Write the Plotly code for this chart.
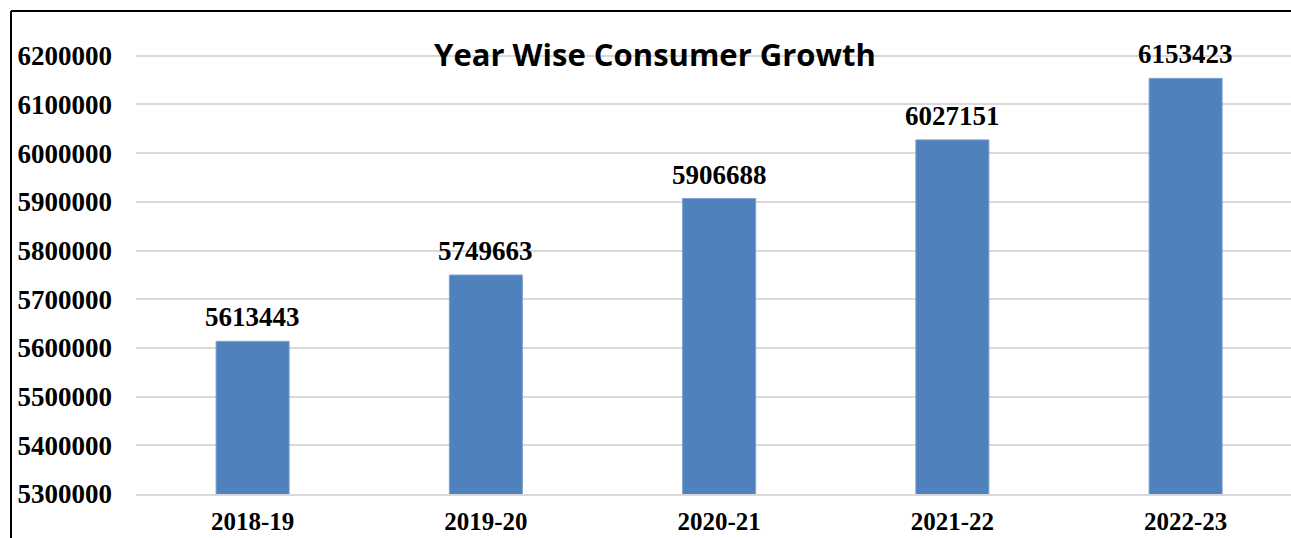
import plotly.graph_objects as go

categories = ["2018-19", "2019-20", "2020-21", "2021-22", "2022-23"]
consumers = [5613443, 5749663, 5906688, 6027151, 6153423]
y_ticks = [5300000, 5400000, 5500000, 5600000, 5700000, 5800000, 5900000, 6000000, 6100000, 6200000]
title_text = "Year Wise Consumer Growth"

W, H = 1291, 538
ML, MR, MT, MB = 136, 0, 12, 44
plot_w = W - ML - MR
plot_h = H - MT - MB

label_font = dict(family="Liberation Serif", size=27, color="black", weight="bold")
xtick_font = dict(family="Liberation Serif", size=25, color="black", weight="bold")

fig = go.Figure()
fig.add_trace(go.Bar(
    x=categories,
    y=consumers,
    width=0.313,
    marker=dict(color="#4f81bd", line=dict(color="#7aa0cf", width=1)),
    hoverinfo="x+y",
))

for c, v in zip(categories, consumers):
    fig.add_annotation(x=c, y=v, text=str(v), showarrow=False,
                       yanchor="bottom", yshift=7, font=label_font)

def px_to_paper_x(px):
    return (px - ML) / plot_w

def px_to_paper_y(py):
    return (H - MB - py) / plot_h

fig.add_shape(type="line", xref="paper", yref="paper",
              x0=px_to_paper_x(11), x1=px_to_paper_x(W + 5),
              y0=px_to_paper_y(11), y1=px_to_paper_y(11),
              line=dict(color="black", width=2))
fig.add_shape(type="line", xref="paper", yref="paper",
              x0=px_to_paper_x(11), x1=px_to_paper_x(11),
              y0=px_to_paper_y(11), y1=px_to_paper_y(H + 5),
              line=dict(color="black", width=2))

fig.update_layout(
    width=W, height=H,
    margin=dict(l=ML, r=MR, t=MT, b=MB, pad=0, autoexpand=False),
    paper_bgcolor="white", plot_bgcolor="white",
    showlegend=False,
    title=dict(text=title_text, xref="container", yref="container",
               x=655 / W, y=1 - 55 / H, xanchor="center", yanchor="middle",
               font=dict(family="Open Sans", size=31, color="black", weight="bold")),
)
fig.update_xaxes(
    range=[-0.5, -0.5 + plot_w / 233.25], automargin=False,
    showgrid=False, showline=True, linecolor="#d9d9d9", linewidth=2,
    ticks="", tickfont=xtick_font, ticklabelstandoff=4,
)
fig.update_yaxes(
    range=[5300000, 5300000 + plot_h / 48.7 * 100000], automargin=False,
    tickvals=y_ticks, tickformat="d",
    showgrid=True, gridcolor="#d9d9d9", gridwidth=2,
    zeroline=False, showline=False,
    ticks="", tickfont=label_font, ticklabelstandoff=23,
)

fig.write_html("out.html")
